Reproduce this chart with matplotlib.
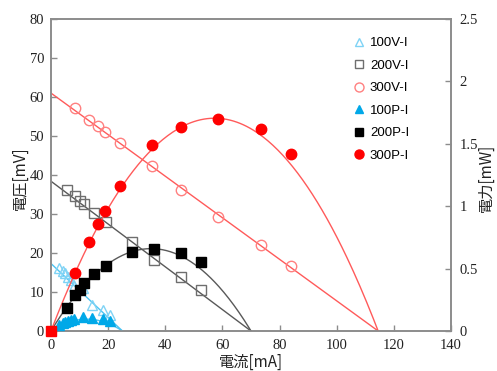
import numpy as np
import matplotlib
matplotlib.use("Agg")
import matplotlib.pyplot as plt
from matplotlib.lines import Line2D

# ---- data ----
I100 = [2.9, 4.1, 4.9, 5.8, 7.0, 8.0, 11.1, 14.5, 18.3, 20.7]
V100 = [16.1, 15.5, 14.8, 13.9, 13.1, 11.5, 10.9, 6.7, 5.4, 4.1]
P100 = [0.047, 0.064, 0.073, 0.081, 0.092, 0.095, 0.110, 0.105, 0.100, 0.078]

I200 = [5.5, 8.4, 10.2, 11.7, 15.2, 19.1, 28.5, 36.2, 45.5, 52.5]
V200 = [36.2, 34.7, 33.4, 32.5, 30.3, 27.9, 22.9, 18.2, 13.8, 10.4]
P200 = [0.187, 0.288, 0.329, 0.382, 0.454, 0.521, 0.635, 0.655, 0.623, 0.555]

I300 = [8.4, 13.3, 16.4, 18.9, 24.2, 35.4, 45.5, 58.5, 73.5, 84.0]
V300 = [57.2, 54.1, 52.6, 51.0, 48.2, 42.3, 36.2, 29.2, 22.1, 16.7]
P300 = [0.465, 0.713, 0.857, 0.962, 1.162, 1.490, 1.635, 1.699, 1.619, 1.418]

origin_I = [0]
origin_P = [0]

# trendlines (V-I lines: intercept and root; P-I curves: peak and root)
trend_v0 = [17.3, 38.4, 61.0]
trend_root = [25.0, 70.0, 114.5]
trend_pmax = [0.095, 0.66, 1.705]

x_ticks = [0, 20, 40, 60, 80, 100, 120, 140]
y_ticks = [0, 10, 20, 30, 40, 50, 60, 70, 80]
y2_ticks = [0, 0.5, 1, 1.5, 2, 2.5]
y2_labels = ["0", "0.5", "1", "1.5", "2", "2.5"]
legend_labels = ["100V-I", "200V-I", "300V-I", "100P-I", "200P-I", "300P-I"]

# ---- styles ----
C100_open = "#7fd3f5"
C100_fill = "#00a8e8"
C200_open = "#6e6e6e"
C200_fill = "#000000"
C300_open = "#ff8080"
C300_fill = "#ff0000"
L100 = "#4cc4f2"
L200 = "#595959"
L300 = "#ff5a5a"

serif = ["Liberation Serif", "Noto Sans CJK JP"]
cjk = ["Noto Sans CJK JP", "Liberation Serif"]

fig = plt.figure(figsize=(4.97, 3.71), dpi=100)
ax = fig.add_axes([51/497, 40/371, 400/497, 312/371])
ax2 = ax.twinx()

series = [
    (I100, V100, P100, L100, C100_open, C100_fill, "^", 6.5),
    (I200, V200, P200, L200, C200_open, C200_fill, "s", 7),
    (I300, V300, P300, L300, C300_open, C300_fill, "o", 7.5),
]

for k, (I, V, P, lc, co, cf, mk, ms) in enumerate(series):
    root = trend_root[k]
    x = np.linspace(0, root, 200)
    ax.plot(x, trend_v0[k] * (1 - x / root), color=lc, lw=1.0, zorder=2)
    ax.plot(I, V, ls="none", marker=mk, ms=ms, mfc="none", mec=co, mew=1.0, zorder=3)
    ax2.plot(x, 4 * trend_pmax[k] * (x / root) * (1 - x / root), color=lc, lw=1.0, zorder=2)
    ax2.plot(I, P, ls="none", marker=mk, ms=ms, mfc=cf, mec=cf, zorder=3)

ax2.plot(origin_I, origin_P, ls="none", marker="s", ms=6.5, color=C300_fill, zorder=5, clip_on=False)

ax.set_xlim(0, 140)
ax.set_ylim(0, 80)
ax2.set_ylim(0, 2.5)
ax.set_xticks(x_ticks)
ax.set_yticks(y_ticks)
ax2.set_yticks(y2_ticks)
ax2.set_yticklabels(y2_labels)

spine_c = "#8c8c8c"
for a in (ax, ax2):
    for s in a.spines.values():
        s.set_color(spine_c)
        s.set_linewidth(1.2)
    a.tick_params(direction="in", length=4, width=1.0, color=spine_c,
                  labelsize=10.5, labelcolor="#222222")
    for lab in a.get_xticklabels() + a.get_yticklabels():
        lab.set_fontfamily(serif)
ax.tick_params(axis="y", pad=5)
ax.tick_params(axis="x", pad=6)
ax2.tick_params(axis="y", pad=6)

fig.text(20/497, 1 - 178/371, "電圧[mV]", rotation=90, ha="center", va="center",
         fontsize=11, family=cjk, color="#222222")
fig.text(486/497, 1 - 178/371, "電力[mW]", rotation=90, ha="center", va="center",
         fontsize=11, family=cjk, color="#222222")
fig.text(251/497, 1 - 362/371, "電流[mA]", ha="center", va="center",
         fontsize=11, family=cjk, color="#222222")

handles = [
    Line2D([], [], ls="none", marker="^", ms=6, mfc="none", mec=C100_open),
    Line2D([], [], ls="none", marker="s", ms=6, mfc="none", mec=C200_open),
    Line2D([], [], ls="none", marker="o", ms=6.5, mfc="none", mec=C300_open),
    Line2D([], [], ls="none", marker="^", ms=6, mfc=C100_fill, mec=C100_fill),
    Line2D([], [], ls="none", marker="s", ms=6, mfc=C200_fill, mec=C200_fill),
    Line2D([], [], ls="none", marker="o", ms=6.5, mfc=C300_fill, mec=C300_fill),
]
leg = fig.legend(handles, legend_labels, loc="upper left",
                 bbox_to_anchor=(354/497, 1 - 37/371), frameon=False,
                 prop={"family": "Liberation Sans", "size": 9.5},
                 handlelength=0.8, handletextpad=0.4, labelspacing=0.78,
                 borderpad=0, borderaxespad=0)

fig.savefig("out.png", dpi=100)
